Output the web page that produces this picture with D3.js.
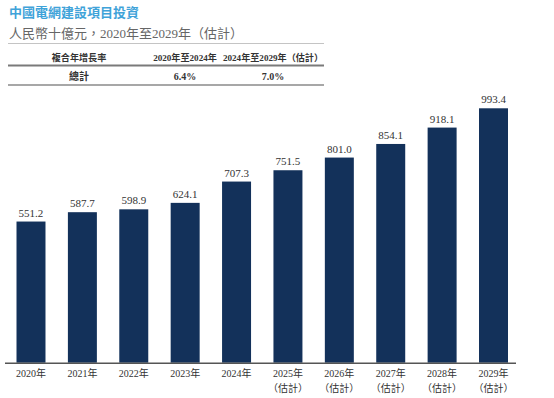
<!DOCTYPE html>
<html>
<head>
<meta charset="utf-8">
<script src="https://cdn.jsdelivr.net/npm/d3@7"></script>
<style>
  body { margin: 0; background: #fff; }
  svg { display: block; }
  text { font-family: "Liberation Serif", "Noto Sans CJK TC", serif; }
</style>
</head>
<body>
<script>
(function (d3) {
  "use strict";

  /***** Data *****/
  var years = ["2020年", "2021年", "2022年", "2023年", "2024年", "2025年", "2026年", "2027年", "2028年", "2029年"];
  var estimated = [false, false, false, false, false, true, true, true, true, true];
  var investment = [551.2, 587.7, 598.9, 624.1, 707.3, 751.5, 801.0, 854.1, 918.1, 993.4];

  var title = "中國電網建設項目投資";
  var subtitle = "人民幣十億元，2020年至2029年（估計）";
  var cagrHeader = ["複合年增長率", "2020年至2024年", "2024年至2029年（估計）"];
  var cagrRow = ["總計", "6.4%", "7.0%"];

  /***** Configuration *****/
  var width = 554, height = 398;
  var baseY = 362.7;
  var barColor = "#13315a";

  var svg = d3.select("body").append("svg")
      .attr("width", width)
      .attr("height", height);

  /***** Titles *****/
  svg.append("text")
      .attr("x", 9).attr("y", 17)
      .attr("font-size", 13).attr("font-weight", "bold")
      .attr("fill", "#3fa3d9")
      .text(title);

  svg.append("text")
      .attr("x", 9).attr("y", 38)
      .attr("font-size", 13)
      .attr("fill", "#666")
      .text(subtitle);

  /***** CAGR table *****/
  var colX = [79, 185, 273];
  svg.append("line").attr("x1", 8).attr("x2", 324).attr("y1", 43.5).attr("y2", 43.5)
      .attr("stroke", "#c4c4c4").attr("stroke-width", 1);
  svg.append("line").attr("x1", 8).attr("x2", 324).attr("y1", 65.5).attr("y2", 65.5)
      .attr("stroke", "#7a7a7a").attr("stroke-width", 2);
  svg.append("line").attr("x1", 8).attr("x2", 324).attr("y1", 85).attr("y2", 85)
      .attr("stroke", "#8a8a8a").attr("stroke-width", 1.5);

  svg.selectAll(".hdr").data(cagrHeader).enter().append("text")
      .attr("class", "hdr")
      .attr("x", function (d, i) { return colX[i]; })
      .attr("y", 60.5)
      .attr("text-anchor", "middle")
      .attr("font-size", 9.1).attr("font-weight", "bold")
      .attr("fill", "#333")
      .text(function (d) { return d; });

  svg.selectAll(".row").data(cagrRow).enter().append("text")
      .attr("class", "row")
      .attr("x", function (d, i) { return colX[i]; })
      .attr("y", 80)
      .attr("text-anchor", "middle")
      .attr("font-size", 10).attr("font-weight", "bold")
      .attr("fill", "#333")
      .text(function (d) { return d; });

  /***** Scales *****/
  var x = d3.scaleBand()
      .domain(years)
      .range([5.3, 519.2])
      .paddingInner(0.436)
      .paddingOuter(0.218);

  var y = d3.scaleLinear()
      .domain([0, 1000])
      .range([baseY, baseY - 256.1]);

  /***** Bars *****/
  svg.selectAll(".bar").data(investment).enter().append("rect")
      .attr("class", "bar")
      .attr("x", function (d, i) { return x(years[i]); })
      .attr("width", x.bandwidth())
      .attr("y", function (d) { return y(d); })
      .attr("height", function (d) { return y(0) - y(d); })
      .attr("fill", barColor);

  svg.selectAll(".val").data(investment).enter().append("text")
      .attr("class", "val")
      .attr("x", function (d, i) { return x(years[i]) + x.bandwidth() / 2; })
      .attr("y", function (d) { return y(d) - 5; })
      .attr("text-anchor", "middle")
      .attr("font-size", 11)
      .attr("fill", "#333")
      .text(function (d) { return d.toFixed(1); });

  /***** Axis *****/
  var xAxis = d3.axisBottom(x).tickSize(0).tickPadding(0);
  var axisG = svg.append("g")
      .attr("transform", "translate(0," + baseY + ")")
      .call(xAxis);
  axisG.select(".domain").remove();
  axisG.selectAll(".tick text").remove();

  svg.append("line")
      .attr("x1", 5).attr("x2", 516)
      .attr("y1", baseY + 0.5).attr("y2", baseY + 0.5)
      .attr("stroke", "#555").attr("stroke-width", 1.5);

  axisG.selectAll(".tick").each(function (d, i) {
    var t = d3.select(this).append("text")
        .attr("text-anchor", "middle")
        .attr("font-size", 10)
        .attr("fill", "#333");
    t.append("tspan").attr("x", 0).attr("y", 14).text(d);
    if (estimated[i]) {
      t.append("tspan").attr("x", 0).attr("y", 29).text("（估計）");
    }
  });

})(d3);
</script>
</body>
</html>
